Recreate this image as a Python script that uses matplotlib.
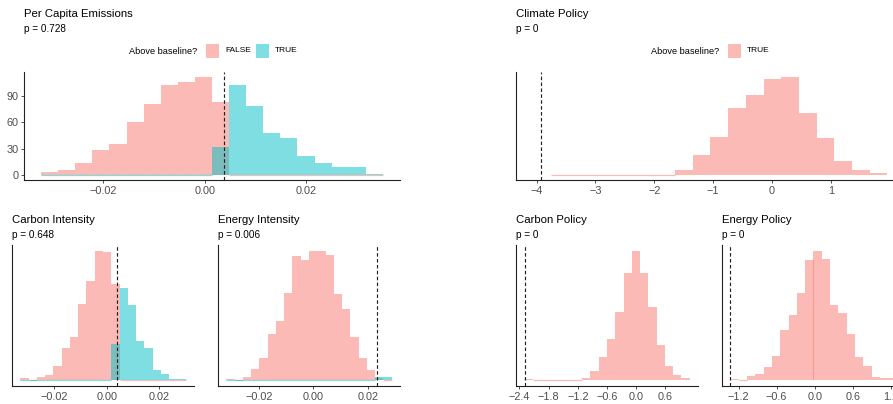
import matplotlib.pyplot as plt
from matplotlib.patches import Rectangle
import numpy as np

plt.rcParams['font.family'] = ['Liberation Sans', 'DejaVu Sans']

# ---- data (20 bins per panel) ----
# Per Capita Emissions
pc_start, pc_width = -0.0322, 0.003365
pc_false = [3, 6, 14, 29, 36, 61, 81, 103, 106, 112, 83, 0, 0, 0, 0, 0, 0, 0, 0, 0]
pc_true = [0, 0, 0, 0, 0, 0, 0, 0, 0, 0, 32, 103, 79, 48, 42, 22, 14, 9, 9, 1]
pc_base = 0.0039

# Climate Policy (only TRUE group)
cp_start, cp_width = -4.05, 0.3005
cp_true = [1, 0, 0, 0, 0, 0, 0, 0, 10, 38, 73, 128, 153, 183, 187, 118, 70, 26, 9, 4]
cp_base = -3.93

# Carbon Intensity
ci_start, ci_width = -0.0328, 0.00314
ci_false = [2, 0, 3, 5, 15, 34, 46, 83, 108, 140, 139, 104, 0, 0, 0, 0, 0, 0, 0, 0]
ci_true = [0, 0, 0, 0, 0, 0, 0, 0, 0, 0, 0, 39, 100, 82, 42, 35, 10, 6, 1, 1]
ci_base = 0.0038

# Energy Intensity
ei_start, ei_width = -0.0319, 0.00303
ei_false = [1, 0, 3, 12, 24, 50, 64, 95, 135, 131, 140, 140, 136, 93, 77, 46, 24, 10, 2, 0]
ei_true = [0, 0, 0, 0, 0, 0, 0, 0, 0, 0, 0, 0, 0, 0, 0, 0, 0, 0, 3, 3]
ei_base = 0.0234

# Carbon Policy
cpol_start, cpol_width = -2.30, 0.17
cpol_true = [1, 0, 0, 0, 0, 0, 0, 3, 14, 37, 66, 110, 174, 210, 174, 119, 56, 22, 8, 2]
cpol_base = -2.28

# Energy Policy
epol_start, epol_width = -1.33, 0.131
epol_true = [1, 0, 4, 7, 15, 28, 59, 76, 102, 141, 151, 142, 88, 79, 54, 27, 16, 3, 2, 2]
epol_base = -1.33

W, H = 893, 404
SALMON = (0.973, 0.463, 0.427, 0.5)
CYAN = (0.0, 0.749, 0.769, 0.5)


def px_axes(fig, x0, y0, x1, y1):
    return fig.add_axes([x0 / W, 1 - y1 / H, (x1 - x0) / W, (y1 - y0) / H])


def hist(ax, start, width, counts, color):
    counts = np.array(counts)
    edges = start + width * np.arange(len(counts))
    ax.bar(edges, counts, width=width, align='edge', color=color, linewidth=0)
    zero = counts == 0
    ax.bar(edges[zero], counts[zero], width=width, align='edge', color=color,
           edgecolor=color, linewidth=0.9)


def setup(ax, start, width, nb, ymax, base, xticks, xlabels):
    lo, hi = start, start + width * nb
    lo, hi = min(lo, base), max(hi, base)
    pad = 0.05 * (hi - lo)
    ax.set_xlim(lo - pad, hi + pad)
    ax.set_ylim(-0.05 * ymax, 1.05 * ymax)
    ax.axvline(base, color='#222222', linestyle=(0, (3, 2)), linewidth=0.85)
    for s in ['top', 'right']:
        ax.spines[s].set_visible(False)
    for s in ['left', 'bottom']:
        ax.spines[s].set_linewidth(0.8)
        ax.spines[s].set_color('#222222')
    ax.set_xticks(xticks)
    ax.set_xticklabels(xlabels)
    ax.tick_params(axis='x', length=2.5, width=0.6, color='#333333',
                   labelsize=7.8, labelcolor='#4D4D4D', pad=1.5)
    ax.set_yticks([])
    ax.set_facecolor('none')


def titles(fig, x, y, title, ptxt):
    fig.text(x / W, 1 - y / H, title, fontsize=8.2, va='center', ha='left')
    fig.text(x / W, 1 - (y + 15) / H, ptxt, fontsize=7.2, va='center', ha='left')


def legend(fig, x, y, entries):
    fig.text(x / W, 1 - y / H, 'Above baseline?', fontsize=6.6, va='center', ha='left')
    kx = x + 77
    for lab, col in entries:
        fig.patches.append(Rectangle((kx / W, 1 - (y + 6.5) / H), 13 / W, 13 / H,
                                     transform=fig.transFigure, facecolor=col,
                                     edgecolor='none'))
        fig.text((kx + 19) / W, 1 - y / H, lab, fontsize=6.0, va='center', ha='left')
        kx += 50


fig = plt.figure(figsize=(W / 100, H / 100), dpi=100)

# Per Capita Emissions
ax = px_axes(fig, 24, 72, 400, 180)
hist(ax, pc_start, pc_width, pc_false, SALMON)
hist(ax, pc_start, pc_width, pc_true, CYAN)
setup(ax, pc_start, pc_width, 20, max(max(pc_false), max(pc_true)), pc_base,
      [-0.02, 0.0, 0.02], ['\u22120.02', '0.00', '0.02'])
ax.set_yticks([0, 30, 60, 90])
ax.tick_params(axis='y', length=2.5, width=0.6, color='#333333',
               labelsize=7.8, labelcolor='#4D4D4D', pad=1.5)
titles(fig, 24, 14, 'Per Capita Emissions', 'p = 0.728')
legend(fig, 129, 51, [('FALSE', SALMON), ('TRUE', CYAN)])

# Climate Policy
ax = px_axes(fig, 516, 72, 905, 180)
hist(ax, cp_start, cp_width, cp_true, SALMON)
setup(ax, cp_start, cp_width, 20, max(cp_true), cp_base,
      [-4, -3, -2, -1, 0, 1], ['\u22124', '\u22123', '\u22122', '\u22121', '0', '1'])
titles(fig, 516, 14, 'Climate Policy', 'p = 0')
legend(fig, 651, 51, [('TRUE', SALMON)])

# Carbon Intensity
ax = px_axes(fig, 12, 245, 194, 386)
hist(ax, ci_start, ci_width, ci_false, SALMON)
hist(ax, ci_start, ci_width, ci_true, CYAN)
setup(ax, ci_start, ci_width, 20, max(max(ci_false), max(ci_true)), ci_base,
      [-0.02, 0.0, 0.02], ['\u22120.02', '0.00', '0.02'])
titles(fig, 12, 220, 'Carbon Intensity', 'p = 0.648')

# Energy Intensity
ax = px_axes(fig, 218, 245, 400, 386)
hist(ax, ei_start, ei_width, ei_false, SALMON)
hist(ax, ei_start, ei_width, ei_true, CYAN)
setup(ax, ei_start, ei_width, 20, max(max(ei_false), max(ei_true)), ei_base,
      [-0.02, 0.0, 0.02], ['\u22120.02', '0.00', '0.02'])
titles(fig, 218, 220, 'Energy Intensity', 'p = 0.006')

# Carbon Policy
ax = px_axes(fig, 516, 245, 698, 386)
hist(ax, cpol_start, cpol_width, cpol_true, SALMON)
setup(ax, cpol_start, cpol_width, 20, max(cpol_true), cpol_base,
      [-2.4, -1.8, -1.2, -0.6, 0.0, 0.6],
      ['\u22122.4', '\u22121.8', '\u22121.2', '\u22120.6', '0.0', '0.6'])
titles(fig, 516, 220, 'Carbon Policy', 'p = 0')

# Energy Policy (the panel runs past the right edge, as in the reference)
ax = px_axes(fig, 722, 245, 905, 386)
hist(ax, epol_start, epol_width, epol_true, SALMON)
setup(ax, epol_start, epol_width, 20, max(epol_true), epol_base,
      [-1.2, -0.6, 0.0, 0.6, 1.2], ['\u22121.2', '\u22120.6', '0.0', '0.6', '1.2'])
titles(fig, 722, 220, 'Energy Policy', 'p = 0')

fig.savefig('out.png', dpi=100)
